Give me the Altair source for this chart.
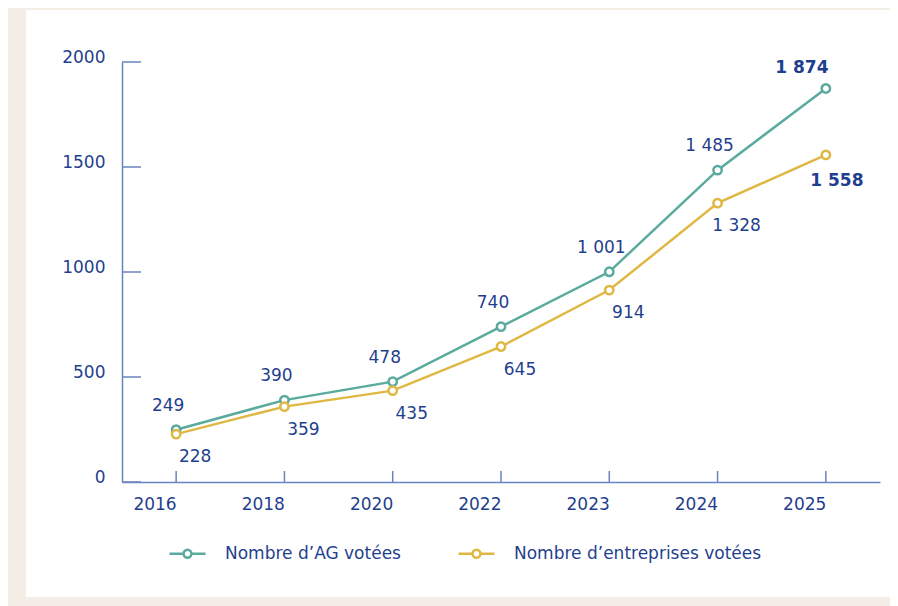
import altair as alt
import pandas as pd

years = ["2016", "2018", "2020", "2022", "2023", "2024", "2025"]
ag_votees = [249, 390, 478, 740, 1001, 1485, 1874]
entreprises_votees = [228, 359, 435, 645, 914, 1328, 1558]
series_names = ["Nombre d\u2019AG vot\u00e9es", "Nombre d\u2019entreprises vot\u00e9es"]
y_ticks = [0, 500, 1000, 1500, 2000]

TEAL = "#5aab9e"
GOLD = "#dfb844"
NAVY = "#1f3f8e"
AXIS = "#6a84bf"
FONT = "DejaVu Sans"
FS = 17

def fmt(v):
    return f"{v:,}".replace(",", " ")

rows = []
for s, vals in zip(series_names, [ag_votees, entreprises_votees]):
    for y, v in zip(years, vals):
        rows.append({"serie": s, "annee": y, "valeur": v, "label": fmt(v)})
df = pd.DataFrame(rows)
df_ticks = pd.DataFrame({"t": y_ticks})
df_years = pd.DataFrame({"annee": years})

W, H = 758, 420

x_enc = alt.X("annee:O", scale=alt.Scale(type="point", padding=0.5, domain=years),
              axis=alt.Axis(title=None, ticks=False, labelAngle=0, labelPadding=22,
                            domainColor=AXIS, domainWidth=1.5, labelColor=NAVY,
                            labelFontSize=FS, labelFont=FONT, zindex=1))
y_enc = alt.Y("valeur:Q", scale=alt.Scale(domain=[0, 2000], nice=False),
              axis=alt.Axis(title=None, ticks=False, values=y_ticks, grid=False, format="d",
                            labelPadding=17, domainColor=AXIS, domainWidth=1.5,
                            labelColor=NAVY, labelFontSize=FS, labelFont=FONT,
                            labelOffset=-5, zindex=1))
color_scale = alt.Scale(domain=series_names, range=[TEAL, GOLD])

panel = alt.Chart(df_years).mark_rect(color="white").encode(
    x=alt.value(-96), x2=alt.value(820), y=alt.value(-52), y2=alt.value(535)
).transform_filter("datum.annee == '2016'")

legend_path = ("M-1,0L-0.22,0M0.22,0L1,0"
               "M0.22,0A0.22,0.22,0,1,1,-0.22,0A0.22,0.22,0,1,1,0.22,0")

lines = alt.Chart(df).mark_line(strokeWidth=2.5).encode(
    x=x_enc, y=y_enc,
    color=alt.Color("serie:N", scale=color_scale, sort=series_names,
                    legend=alt.Legend(title=None, orient="none", legendX=46, legendY=472,
                                      direction="horizontal", symbolType=legend_path,
                                      symbolSize=1296, symbolStrokeWidth=2.5,
                                      symbolFillColor="white", labelOffset=18,
                                      columnPadding=52, labelFontSize=FS, labelLimit=600,
                                      labelFont=FONT, labelColor=NAVY))
)
points = alt.Chart(df).mark_point(filled=True, fill="white", strokeWidth=2.5, size=70, opacity=1).encode(
    x="annee:O", y="valeur:Q",
    stroke=alt.Color("serie:N", scale=color_scale, legend=None)
)

ytick_rules = alt.Chart(df_ticks).mark_rule(color=AXIS, strokeWidth=1.5).encode(
    y=alt.Y("t:Q", scale=alt.Scale(domain=[0, 2000], nice=False)),
    x=alt.value(0), x2=alt.value(19)
)
xtick_rules = alt.Chart(df_years).mark_rule(color=AXIS, strokeWidth=1.5).encode(
    x=alt.X("annee:O"), y=alt.value(H), y2=alt.value(H - 11)
)

def labels(serie, dx, dy, bold):
    cond = "datum.annee == '2025'" if bold else "datum.annee != '2025'"
    return alt.Chart(df).transform_filter(
        f"datum.serie == '{serie}'").transform_filter(cond).mark_text(
        dx=dx, dy=dy, fontSize=FS, font=FONT, color=NAVY,
        fontWeight="bold" if bold else "normal"
    ).encode(x="annee:O", y="valeur:Q", text="label:N")

chart = alt.layer(
    panel, ytick_rules, xtick_rules, lines, points,
    labels(series_names[0], -8, -24, False), labels(series_names[0], -24, -20, True),
    labels(series_names[1], 19, 23, False), labels(series_names[1], 11, 26, True),
).properties(
    width=W, height=H,
    background="#f4ede6",
    padding={"left": 114, "top": 54, "right": 10, "bottom": 124},
    autosize=alt.AutoSizeParams(type="none"),
).configure_view(stroke=None)

chart.save("out.html", embed_options={"renderer": "svg", "actions": False})
